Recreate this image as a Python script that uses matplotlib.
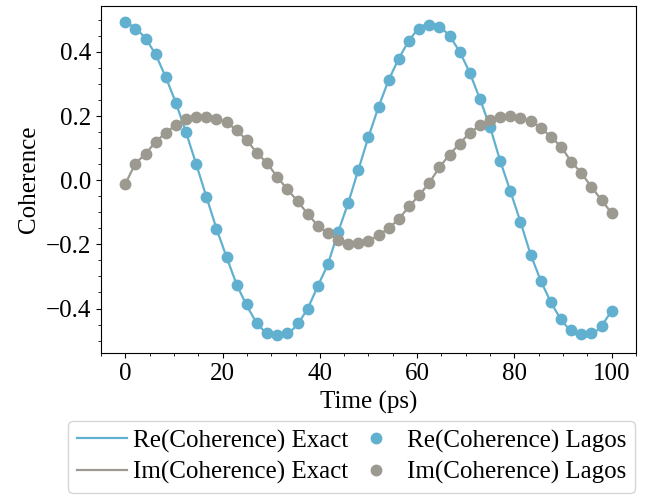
import numpy as np
import matplotlib
matplotlib.use("Agg")
import matplotlib.pyplot as plt
from matplotlib.ticker import MultipleLocator

plt.rcParams['font.family'] = ['Liberation Serif', 'DejaVu Serif']
plt.rcParams['mathtext.fontset'] = 'stix'

# time grid (ps)
time = np.linspace(0, 100, 49)

re_lagos = [0.494, 0.472, 0.441, 0.392, 0.321, 0.241, 0.149, 0.050, -0.051, -0.151,
            -0.238, -0.326, -0.387, -0.445, -0.475, -0.483, -0.475, -0.445, -0.401, -0.330,
            -0.262, -0.162, -0.071, 0.032, 0.135, 0.229, 0.313, 0.378, 0.434, 0.472,
            0.485, 0.479, 0.448, 0.401, 0.335, 0.253, 0.166, 0.060, -0.034, -0.130,
            -0.232, -0.313, -0.381, -0.432, -0.466, -0.480, -0.477, -0.453, -0.407]
im_lagos = [-0.012, 0.052, 0.082, 0.120, 0.148, 0.173, 0.192, 0.198, 0.196, 0.192,
            0.180, 0.156, 0.124, 0.085, 0.053, 0.010, -0.029, -0.065, -0.105, -0.142,
            -0.165, -0.185, -0.199, -0.196, -0.190, -0.171, -0.150, -0.121, -0.082, -0.047,
            -0.008, 0.040, 0.080, 0.114, 0.148, 0.171, 0.189, 0.196, 0.201, 0.194,
            0.184, 0.164, 0.135, 0.105, 0.058, 0.023, -0.021, -0.062, -0.103]

re_exact = [0.494, 0.475, 0.443, 0.392, 0.321, 0.241, 0.149, 0.050, -0.051, -0.151,
            -0.240, -0.326, -0.392, -0.447, -0.480, -0.490, -0.482, -0.450, -0.401, -0.330,
            -0.262, -0.162, -0.071, 0.032, 0.135, 0.229, 0.313, 0.380, 0.436, 0.476,
            0.490, 0.482, 0.450, 0.401, 0.335, 0.253, 0.166, 0.060, -0.034, -0.130,
            -0.232, -0.313, -0.381, -0.435, -0.472, -0.490, -0.485, -0.455, -0.407]
im_exact = im_lagos

c_re = '#62b0cf'
c_im = '#9b9990'

fig = plt.figure(figsize=(6.47, 4.96), dpi=100)
ax = fig.add_axes([0.156, 0.288, 0.827, 0.700])

ax.plot(time, re_exact, color=c_re, lw=1.6, label='Re(Coherence) Exact')
ax.plot(time, im_exact, color=c_im, lw=1.6, label='Im(Coherence) Exact')
ax.plot(time, re_lagos, 'o', color=c_re, ms=7.5, label='Re(Coherence) Lagos')
ax.plot(time, im_lagos, 'o', color=c_im, ms=7.5, label='Im(Coherence) Lagos')

ax.set_xticks([0, 20, 40, 60, 80, 100])
ax.set_yticks([-0.4, -0.2, 0.0, 0.2, 0.4])
ax.xaxis.set_minor_locator(MultipleLocator(5))
ax.yaxis.set_minor_locator(MultipleLocator(0.05))
ax.tick_params(labelsize=18)
ax.set_xlabel('Time (ps)', fontsize=18, labelpad=4)
ax.set_ylabel('Coherence', fontsize=18, labelpad=4)

fig.legend(loc='upper center', bbox_to_anchor=(0.5436, 0.1518), ncol=2,
           fontsize=18, borderaxespad=0, handletextpad=0.25, columnspacing=0.1,
           labelspacing=0.35, borderpad=0.35)

fig.savefig('out.png', dpi=100)
